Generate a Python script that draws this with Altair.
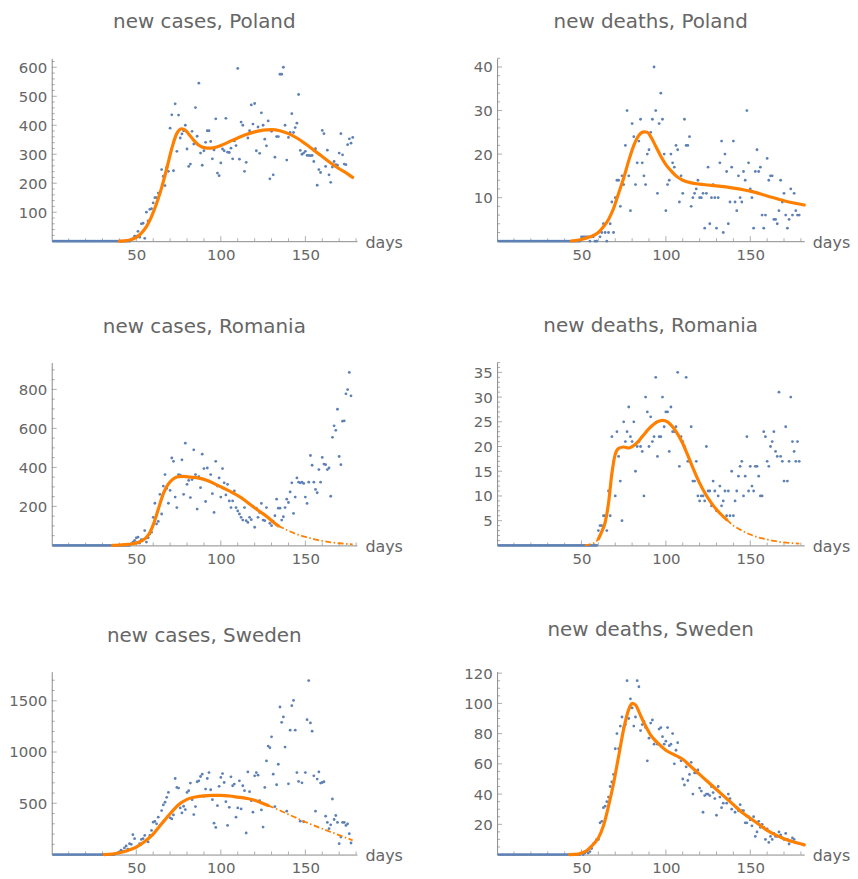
import altair as alt
import pandas as pd

FONT = "DejaVu Sans"
TEXT = "#666666"
AXIS = "#8a8a8a"
DOT = "#5E81B5"
FIT = "#FF8000"
HEIGHT = 184

X_MAJOR = [50, 100, 150]
X_MINOR = [10, 20, 30, 40, 60, 70, 80, 90, 110, 120, 130, 140, 160, 170, 180]

# ---------------- Poland, new cases ----------------
PC_START = 47
PC_VALUES = [5, 9, 17, 17, 34, 14, 60, 62, 10, 100,
             70, 110, 112, 132, 150, 150, 166, 166, 247, 224,
             192, 255, 241, 390, 436, 243, 474, 310, 435, 356,
             370, 381, 400, 318, 258, 266, 379, 335, 461, 362,
             545, 304, 262, 312, 341, 381, 381, 344, 284, 315,
             422, 235, 226, 270, 318, 312, 424, 307, 306, 321,
             284, 346, 330, 596, 283, 411, 400, 241, 272, 356,
             381, 470, 404, 475, 312, 394, 303, 443, 400, 352,
             329, 415, 215, 379, 229, 290, 361, 361, 576, 576,
             600, 400, 280, 358, 375, 440, 375, 392, 407, 506,
             313, 300, 304, 310, 296, 296, 295, 296, 275, 319,
             193, 247, 237, 382, 371, 258, 314, 229, 203, 256,
             275, 264, 262, 304, 371, 298, 266, 264, 333, 353,
             338, 358]
PC_FIT_DAYS = [40, 43, 46, 50, 53, 56, 59, 62, 65, 68, 71, 74, 77, 79, 81, 84, 87,
               90, 94, 98, 102, 106, 110, 115, 120, 125, 130, 135, 140, 145, 150,
               155, 160, 165, 170, 175, 178]
PC_FIT_VALUES = [0, 1, 4, 13, 28, 50, 85, 130, 185, 250, 320, 372, 388, 383, 370, 348,
                 331, 323, 321, 326, 335, 346, 356, 368, 377, 383, 385, 381, 371, 356,
                 336, 314, 292, 270, 250, 232, 220]

# ---------------- Poland, new deaths ----------------
PD_START = 50
PD_VALUES = [1, 1, 1, 1, 1, 0, 1, 1, 0, 0,
             2, 1, 2, 4, 2, 0, 2, 4, 9, 2,
             10, 14, 14, 8, 15, 13, 22, 30, 15, 7,
             27, 24, 13, 18, 23, 28, 18, 15, 13, 20,
             21, 25, 28, 40, 30, 11, 27, 34, 28, 20,
             7, 13, 14, 20, 18, 17, 22, 21, 9, 15,
             11, 28, 22, 22, 24, 8, 10, 11, 12, 14,
             10, 10, 11, 3, 11, 17, 4, 10, 13, 10,
             3, 10, 18, 23, 2, 20, 16, 4, 9, 17,
             23, 9, 7, 15, 10, 9, 16, 14, 30, 18,
             12, 10, 3, 16, 21, 16, 17, 6, 3, 6,
             19, 14, 15, 15, 5, 5, 4, 7, 14, 9,
             11, 6, 3, 5, 12, 6, 11, 7, 6, 6]
PD_FIT_DAYS = [44, 50, 55, 60, 63, 66, 69, 72, 75, 78, 81, 84, 87, 89, 91, 94, 97,
               100, 103, 106, 110, 115, 120, 125, 130, 140, 150, 160, 170, 182]
PD_FIT_VALUES = [0.05, 0.4, 1, 2, 3.3, 5, 7.5, 11, 14.5, 18.5, 22, 24.3, 25.1, 25,
                 24, 21.8, 19.5, 17.6, 16.2, 15, 14, 13.4, 13.1, 12.9, 12.7, 12.2,
                 11.5, 10.4, 9.3, 8.3]

# ---------------- Romania, new cases ----------------
RC_START = 47
RC_VALUES = [8, 17, 25, 39, 42, 12, 30, 30, 76, 17,
             39, 59, 68, 144, 216, 110, 123, 262, 161, 304,
             363, 292, 216, 282, 448, 431, 248, 194, 363, 360,
             439, 262, 524, 313, 333, 245, 338, 490, 363, 186,
             352, 296, 468, 394, 225, 397, 330, 363, 265, 169,
             431, 304, 346, 248, 394, 321, 259, 313, 228, 194,
             228, 279, 194, 177, 161, 144, 130, 194, 127, 118,
             144, 132, 198, 93, 191, 144, 169, 215, 130, 127,
             194, 144, 113, 101, 123, 152, 237, 191, 191, 130,
             147, 194, 237, 220, 274, 321, 164, 248, 346, 324,
             321, 324, 318, 248, 215, 324, 461, 411, 324, 287,
             270, 389, 324, 451, 417, 414, 389, 397, 252, 554,
             613, 590, 698, 456, 414, 637, 639, 777, 799, 887,
             767]
RC_FIT_DAYS = [36, 40, 45, 50, 55, 58, 60, 63, 66, 69, 72, 75, 78, 82, 87, 92, 97,
               102, 107, 112, 117, 122, 127, 131, 134]
RC_FIT_VALUES = [0, 2, 5, 12, 33, 65, 105, 185, 265, 315, 342, 353, 354, 350, 345,
                 333, 313, 292, 270, 245, 212, 180, 150, 120, 100]
RC_EXT_DAYS = [134, 140, 145, 150, 156, 160, 165, 170, 175, 178]
RC_EXT_VALUES = [100, 75, 57, 44, 30, 23, 16, 11, 7, 5]

# ---------------- Romania, new deaths ----------------
RD_START = 60
RD_VALUES = [3, 4, 4, 6, 6, 3, 11, 6, 22, 17,
             10, 23, 18, 13, 5, 25, 21, 23, 28, 22,
             21, 25, 15, 20, 21, 20, 19, 10, 30, 27,
             20, 26, 21, 22, 34, 18, 22, 22, 30, 24,
             27, 27, 19, 28, 23, 23, 24, 35, 16, 22,
             21, 20, 34, 17, 17, 24, 13, 13, 17, 10,
             9, 10, 10, 9, 20, 11, 11, 8, 13, 11,
             7, 10, 12, 8, 9, 11, 6, 11, 6, 15,
             6, 9, 11, 14, 16, 17, 10, 14, 22, 11,
             16, 12, 11, 16, 16, 14, 10, 10, 23, 22,
             17, 16, 20, 21, 23, 19, 18, 31, 18, 17,
             13, 24, 13, 17, 30, 21, 19, 17, 21, 17]
RD_PRE_DAYS = [52, 55, 58, 60]
RD_PRE_VALUES = [0, 0.2, 0.6, 1.3]
RD_FIT_DAYS = [60, 62, 64, 66, 68, 70, 72, 75, 78, 80, 83, 86, 90, 95, 98, 101, 104,
               107, 110, 113, 116, 120, 124, 128, 132, 136]
RD_FIT_VALUES = [1.3, 2.8, 4.6, 8.5, 14.5, 18.4, 19.6, 19.9, 19.7, 20, 20.8, 22,
                 23.6, 25, 25.3, 25, 24, 22.5, 20.6, 18.2, 15.7, 12.6, 10.1, 8.1,
                 6.5, 5.2]
RD_EXT_DAYS = [136, 140, 145, 150, 155, 160, 165, 170, 175, 179]
RD_EXT_VALUES = [5.2, 4, 3, 2.2, 1.6, 1.2, 0.85, 0.6, 0.45, 0.35]

# ---------------- Sweden, new cases ----------------
SC_START = 38
SC_VALUES = [10, 16, 26, 42, 32, 65, 84, 52, 106, 100,
             194, 155, 74, 84, 106, 148, 155, 187, 135, 123,
             187, 235, 316, 323, 300, 365, 284, 429, 484, 510,
             558, 606, 358, 348, 387, 742, 655, 648, 455, 406,
             471, 439, 606, 623, 697, 535, 390, 468, 710, 719,
             761, 784, 568, 639, 742, 800, 632, 535, 306, 265,
             477, 665, 752, 790, 703, 516, 284, 461, 758, 671,
             687, 365, 455, 719, 445, 671, 623, 210, 806, 613,
             526, 413, 768, 800, 774, 526, 435, 268, 655, 913,
             1058, 1042, 1148, 784, 468, 681, 881, 1439, 1290, 1342,
             1048, 423, 690, 1213, 1452, 1503, 1213, 800, 713, 326,
             700, 320, 800, 1316, 1697, 1284, 1203, 768, 423, 736,
             806, 697, 703, 710, 374, 313, 252, 290, 542, 342,
             381, 313, 106, 171, 313, 313, 284, 300, 203, 113]
SC_FIT_DAYS = [31, 36, 40, 45, 50, 55, 60, 65, 70, 75, 80, 85, 90, 95, 100, 105,
               110, 115, 120, 125, 128]
SC_FIT_VALUES = [0, 5, 17, 40, 72, 128, 200, 300, 398, 485, 538, 562, 573, 577, 577,
                 571, 560, 548, 530, 497, 478]
SC_EXT_DAYS = [128, 135, 140, 145, 150, 155, 160, 165, 170, 175, 178]
SC_EXT_VALUES = [478, 430, 392, 355, 318, 284, 252, 220, 189, 158, 139]

# ---------------- Sweden, new deaths ----------------
SD_START = 49
SD_VALUES = [0, 1, 0, 1, 2, 1, 2,
             4, 7, 8, 10, 10, 21, 22, 31, 32, 35,
             38, 45, 48, 53, 70, 80, 70, 85, 91, 84,
             86, 115, 90, 103, 97, 85, 91, 115, 111, 82,
             86, 88, 84, 62, 77, 87, 89, 73, 75, 73,
             83, 84, 78, 73, 75, 84, 72, 73, 80,
             60, 69, 74, 64, 62, 50, 46, 58, 49, 53,
             61, 40, 54, 54, 56, 44, 42, 28, 39,
             40, 40, 39, 45, 41, 37, 26, 45, 38, 31,
             34, 38, 34, 40, 37, 30, 33, 28, 31, 29,
             33, 29, 29, 21, 21, 25, 23, 19, 25,
             12, 15, 22, 18, 20, 18, 10, 17, 8, 12,
             10, 14, 12, 12, 15, 13, 11, 10, 14, 10,
             7, 9, 11, 10, 8]
SD_FIT_DAYS = [43, 48, 50, 53, 55, 58, 60, 63, 66, 69, 72, 75, 78, 80, 82, 85, 88,
               91, 95, 100, 105, 110, 115, 120, 125, 130, 135, 140, 145, 150, 155,
               160, 165, 170, 175, 182]
SD_FIT_VALUES = [0, 0.3, 1, 2.5, 4.5, 8, 11, 19, 32, 47, 65, 83, 96, 100, 99, 92,
                 85, 79, 74, 69, 66, 63, 58, 53, 48, 43, 38, 33, 28, 24, 20, 16, 13,
                 10.5, 8.6, 6.4]


def frame(days, values):
    return pd.DataFrame({"day": days, "v": values})


def make_panel(title, start, values, solid, dashed, xmax, ymax, y_major, y_minor,
               width, min_ext):
    days = list(range(1, start + len(values)))
    vals = [0] * (start - 1) + list(values)
    xs = alt.Scale(domain=[0, xmax], nice=False, zero=False)
    ys = alt.Scale(domain=[0, ymax], nice=False, zero=False)
    x_axis = alt.Axis(values=X_MAJOR, format="d", title="days", titleX=width + 8,
                      titleY=6, titleAlign="left", titleBaseline="alphabetic",
                      titleAngle=0, titleFontSize=16, titleFontWeight="normal",
                      titleColor=TEXT, titleFont=FONT, labelFont=FONT,
                      labelFontSize=15, labelColor=TEXT, labelPadding=6,
                      ticks=False, domainColor=AXIS, domainWidth=1, grid=False,
                      labelFlush=False)
    y_axis = alt.Axis(values=y_major, format="d", title=None, labelFont=FONT,
                      labelFontSize=15, labelColor=TEXT, labelPadding=5,
                      ticks=False, domainColor=AXIS, domainWidth=1, grid=False,
                      minExtent=min_ext, labelFlush=False)
    X = alt.X("day:Q", scale=xs, axis=x_axis)
    Y = alt.Y("v:Q", scale=ys, axis=y_axis)

    layers = []
    for vals_list, length in ((y_major, 5), (y_minor, 3)):
        layers.append(
            alt.Chart(pd.DataFrame({"v": vals_list}))
            .mark_tick(orient="horizontal", size=length, thickness=1, color=AXIS)
            .encode(y=Y, x=alt.value(length / 2))
        )
    for vals_list, length in ((X_MAJOR, 5), (X_MINOR, 3)):
        layers.append(
            alt.Chart(pd.DataFrame({"day": vals_list}))
            .mark_tick(orient="vertical", size=length, thickness=1, color=AXIS)
            .encode(x=X, y=alt.value(HEIGHT - length / 2))
        )
    layers.append(
        alt.Chart(frame(days, vals))
        .mark_circle(size=8, color=DOT, opacity=1)
        .encode(x=X, y=Y)
    )
    for d, v in dashed:
        layers.append(
            alt.Chart(frame(d, v))
            .mark_line(color=FIT, strokeWidth=1.8, strokeDash=[6, 2.5, 1.5, 2.5],
                       interpolate="monotone")
            .encode(x=X, y=Y)
        )
    d, v = solid
    layers.append(
        alt.Chart(frame(d, v))
        .mark_line(color=FIT, strokeWidth=3.2, interpolate="monotone",
                   strokeCap="round")
        .encode(x=X, y=Y)
    )
    return alt.layer(*layers).properties(
        width=width,
        height=HEIGHT,
        title=alt.TitleParams(title, font=FONT, fontSize=20, fontWeight="normal",
                              color=TEXT, anchor="middle", frame="group",
                              baseline="alphabetic", offset=10),
    )


def minor(step, top, major_step):
    return [t for t in range(step, top + 1, step) if t % major_step]


LW, RW = 307, 309
LX, RX = 180.5, 182

panels = [
    make_panel("new cases, Poland", PC_START, PC_VALUES,
               (PC_FIT_DAYS, PC_FIT_VALUES), [], LX, 631,
               [100, 200, 300, 400, 500, 600], minor(20, 631, 100), LW, 44),
    make_panel("new deaths, Poland", PD_START, PD_VALUES,
               (PD_FIT_DAYS, PD_FIT_VALUES), [], RX, 42,
               [10, 20, 30, 40], minor(2, 42, 10), RW, 35),
    make_panel("new cases, Romania", RC_START, RC_VALUES,
               (RC_FIT_DAYS, RC_FIT_VALUES), [(RC_EXT_DAYS, RC_EXT_VALUES)], LX, 938,
               [200, 400, 600, 800], minor(50, 938, 200), LW, 44),
    make_panel("new deaths, Romania", RD_START, RD_VALUES,
               (RD_FIT_DAYS, RD_FIT_VALUES),
               [(RD_PRE_DAYS, RD_PRE_VALUES), (RD_EXT_DAYS, RD_EXT_VALUES)], RX, 37,
               [5, 10, 15, 20, 25, 30, 35], minor(1, 37, 5), RW, 35),
    make_panel("new cases, Sweden", SC_START, SC_VALUES,
               (SC_FIT_DAYS, SC_FIT_VALUES), [(SC_EXT_DAYS, SC_EXT_VALUES)], LX, 1784,
               [500, 1000, 1500], minor(100, 1784, 500), LW, 44),
    make_panel("new deaths, Sweden", SD_START, SD_VALUES,
               (SD_FIT_DAYS, SD_FIT_VALUES), [], RX, 121,
               [20, 40, 60, 80, 100, 120], minor(5, 121, 20), RW, 35),
]

chart = alt.concat(
    *panels, columns=2, spacing={"row": 54, "column": 60}, align="each"
).properties(
    padding={"left": 0, "top": 1, "right": 0, "bottom": 0}
).configure(font=FONT).configure_view(stroke="transparent", strokeWidth=0)

chart.save("out.html", embed_options={"renderer": "svg", "actions": False})
